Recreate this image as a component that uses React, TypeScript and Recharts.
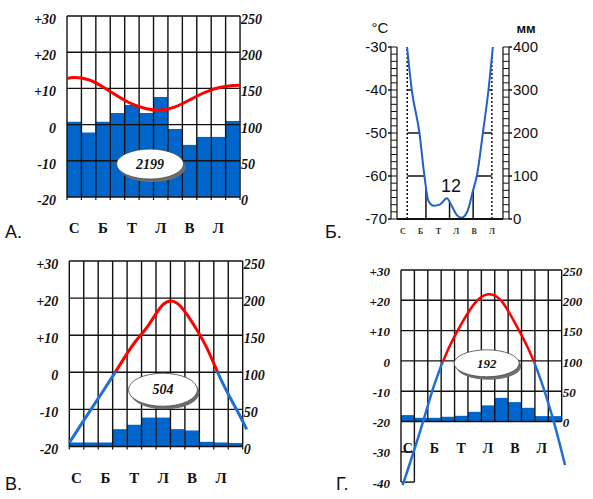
import React from 'react';
import {
  BarChart, Bar, LineChart, Line, AreaChart, Area,
  XAxis, YAxis, ReferenceLine, ReferenceDot, Label,
} from 'recharts';

const W = 593;
const H = 499;

// Month initials (Ukrainian calendar)
const months = ['С', 'Л', 'Б', 'К', 'Т', 'Ч', 'Л', 'С', 'В', 'Ж', 'Л', 'Г'];
const tempTicks = [-20, -10, 0, 10, 20, 30];
const tempTicksG = [-40, -30, -20, -10, 0, 10, 20, 30];
const mmTicks = [0, 50, 100, 150, 200, 250];

// Panel А
const precipA = [104, 89, 104, 116, 127, 116, 138, 94, 72, 83, 83, 105];
const tempA = [13.0, 12.4, 10.4, 7.9, 5.7, 4.4, 4.0, 4.9, 6.8, 8.8, 10.2, 10.8];
const tempAStart = [0, 12.7];
const tempAEnd = [12, 10.9];
const totalA = '2199';
const totalAPos = [5.76, -10.9];

// Panel В
const precipV = [5.4, 5.4, 5.4, 23.4, 29.2, 39, 39, 23.4, 21.6, 6.3, 5.4, 4.6];
const tempV = [-16, -10, -4.1, 2.0, 7.9, 12.8, 18.3, 18.5, 13.5, 6.7, -2.0, -9.5];
const tempVStart = [0, -19];
const tempVEnd = [12.28, -15.4];
const totalV = '504';
const totalVPos = [6.48, -4.7];

// Panel Г
const precipG = [10.6, 6.1, 6.1, 7.8, 9.4, 16, 26.6, 39, 32, 22.6, 8.9, 8.9];
const tempG = [-36, -22.2, -7.7, 3.6, 12.1, 19, 22, 19.8, 12.6, 4.1, -7.1, -21.5];
const tempGStart = [0.12, -41];
const tempGEnd = [12.25, -34.4];
const totalG = '192';
const totalGPos = [6.4, -0.8];

// Panel Б
const tempBMonth = [1.48, 2.01, 2.87, 3.43, 3.88, 4.5, 5.2, 5.94, 6.5, 7.07, 7.6, 8.26, 8.87, 9.31, 9.99, 10.62, 11.11];
const tempB = [-30, -40, -50, -60, -65.8, -66.9, -66.6, -65.2, -67, -69.1, -69.7, -68.2, -63.5, -60, -50, -40, -30];
const tempBTicks = [-70, -60, -50, -40, -30];
const mmBTicks = [0, 100, 200, 300, 400];
const totalB = '12';
const totalBPos = [6.41, -62.4];

const panelLetters = ['А.', 'Б.', 'В.', 'Г.'];

const INK = '#111';
const RED = '#ff0000';
const BLUE_LINE = '#1f6fd6';
const BAR_BLUE = '#0066cc';

const serifTick = (size: number, dy: number) => ({
  fontFamily: 'Liberation Serif', fontStyle: 'italic', fontWeight: 700, fontSize: size, fill: INK, dy,
});
const monthTick = (size: number) => ({
  fontFamily: 'Liberation Serif', fontWeight: 700, fontSize: size, fill: INK,
});

const layerStyle: React.CSSProperties = { position: 'absolute', left: 0, top: 0 };

type Seg = number[][];

type PanelCfg = {
  id: string;
  x1: number; y1: number; colW: number; pxDeg: number; yMin: number; xMax: number;
  precip: number[]; temp: number[]; start: number[]; end: number[];
  total: string; totalPos: number[]; rx: number; ry: number; totalFont: number;
  yTicks: number[]; labelFont: number; labelDy: number; monthFont: number; monthGap: number;
  bottomTicks: boolean; extraGrid: Seg[]; lineWidth: number;
};

const ellipseShape = (text: string, rx: number, ry: number, fs: number) => (p: any) => (
  <g>
    <ellipse cx={p.cx + 2} cy={p.cy + 3} rx={rx} ry={ry} fill="#6e6e6e" />
    <ellipse cx={p.cx} cy={p.cy} rx={rx} ry={ry} fill="#fff" stroke="#444" strokeWidth={0.8} />
    <text x={p.cx} y={p.cy} textAnchor="middle" dominantBaseline="central"
      fontFamily="Liberation Serif" fontStyle="italic" fontWeight={700} fontSize={fs} fill={INK}>{text}</text>
  </g>
);

// invisible helper series so that an axis with no visible series still gets its scale
const ghost = (yAxisId: string | number = 0) => (
  <Line yAxisId={yAxisId} dataKey="t" stroke="none" strokeOpacity={0} dot={false} activeDot={false}
    isAnimationActive={false} legendType="none" />
);

function ClimatePanel({ c }: { c: PanelCfg }) {
  const barPlot = { left: c.x1, top: c.y1, right: c.x1 + 12 * c.colW, bottom: c.y1 + 50 * c.pxDeg };
  const linePlot = { left: c.x1, top: c.y1, right: c.x1 + c.xMax * c.colW, bottom: c.y1 + (30 - c.yMin) * c.pxDeg };
  const RW = 40, XH = 40, LW = 40, TK = 3;
  const barData = c.precip.map((p, i) => ({ i, p }));
  const lineData = [
    { x: c.start[0], t: c.start[1] },
    ...c.temp.map((t, i) => ({ x: i + 0.5, t })),
    { x: c.end[0], t: c.end[1] },
  ];
  const gridSegs: Seg[] = [
    ...tempTicks.map((t) => [[0, t], [months.length, t]]),
    ...[...months.map((_, i) => i), months.length].map((i) => [[i, -20], [i, 30]]),
    ...c.extraGrid,
  ];
  const zeroOff = 30 / (30 - c.yMin);
  const gid = `grad-${c.id}`;
  return (
    <>
      {/* bars + right (mm) axis + month labels */}
      <div style={layerStyle}>
        <BarChart width={W} height={H} data={barData} barCategoryGap={0} barGap={0}
          margin={{ left: barPlot.left, top: barPlot.top, right: W - barPlot.right - RW, bottom: H - barPlot.bottom - XH }}>
          <XAxis dataKey="i" interval={1} tickLine={false} axisLine={false} height={XH}
            tickSize={0} tickMargin={c.monthGap} tick={monthTick(c.monthFont)}
            tickFormatter={(v: number) => months[v]} />
          <YAxis orientation="right" domain={[0, 250]} ticks={mmTicks} interval={0} width={RW}
            tickSize={0} tickMargin={1} axisLine={false} tick={serifTick(c.labelFont, c.labelDy)} />
          <Bar dataKey="p" fill={BAR_BLUE} isAnimationActive={false} />
        </BarChart>
      </div>
      {/* grid */}
      <div style={layerStyle}>
        <LineChart width={W} height={H} data={lineData}
          margin={{ left: linePlot.left, top: linePlot.top, right: W - linePlot.right, bottom: H - linePlot.bottom - (c.bottomTicks ? TK : 0) }}>
          <XAxis type="number" dataKey="x" domain={[0, c.xMax]} hide={!c.bottomTicks}
            ticks={[...months.map((_, i) => i), months.length]} interval={0} height={TK}
            tickSize={TK} axisLine={false} tickLine={{ stroke: INK, strokeWidth: 1.2 }} tickFormatter={() => ''} />
          <YAxis type="number" domain={[c.yMin, 30]} hide />
          {ghost()}
          {gridSegs.map((s, k) => (
            <ReferenceLine key={k} segment={[{ x: s[0][0], y: s[0][1] }, { x: s[1][0], y: s[1][1] }]}
              stroke={INK} strokeWidth={1.4} />
          ))}
        </LineChart>
      </div>
      {/* temperature line, left axis, total label */}
      <div style={layerStyle}>
        <LineChart width={W} height={H} data={lineData}
          margin={{ left: linePlot.left - LW, top: linePlot.top, right: W - linePlot.right, bottom: H - linePlot.bottom }}>
          <defs>
            <linearGradient id={gid} gradientUnits="userSpaceOnUse" x1={0} x2={0} y1={linePlot.top} y2={linePlot.bottom}>
              <stop offset={0} stopColor={RED} />
              <stop offset={zeroOff} stopColor={RED} />
              <stop offset={zeroOff} stopColor={BLUE_LINE} />
              <stop offset={1} stopColor={BLUE_LINE} />
            </linearGradient>
          </defs>
          <XAxis type="number" dataKey="x" domain={[0, c.xMax]} hide />
          <YAxis type="number" domain={[c.yMin, 30]} ticks={c.yTicks} interval={0} width={LW}
            tickSize={0} tickMargin={11} axisLine={false} tick={serifTick(c.labelFont, c.labelDy)}
            tickFormatter={(v: number) => (v > 0 ? `+${v}` : `${v}`)} />
          <Line type="natural" dataKey="t" stroke={`url(#${gid})`} strokeWidth={c.lineWidth}
            dot={false} isAnimationActive={false} />
          <ReferenceDot x={c.totalPos[0]} y={c.totalPos[1]} shape={ellipseShape(c.total, c.rx, c.ry, c.totalFont)} />
        </LineChart>
      </div>
    </>
  );
}

function PanelB() {
  const plot = { left: 397, top: 47, right: 503, bottom: 219 };
  const xDom = [0.35, 12.25];
  const data = tempBMonth.map((x, i) => ({ x, t: tempB[i] }));
  const IN = 6, OUTL = 22, OUTR = 34, XH = 20;
  const plainMargin = { left: plot.left, top: plot.top, right: W - plot.right, bottom: H - plot.bottom };
  const gridY = [-60, -50, -40];
  const dottedX = [1.5, 11];
  const solidX = [3.6, 6.25, 8.9];
  const ladderT = Array.from({ length: 25 }, (_, k) => -70 + (k * 40) / 24);
  const ladderMM = Array.from({ length: 25 }, (_, k) => (k * 400) / 24);
  const sans = { fontFamily: 'Liberation Sans', fontSize: 15, fill: INK };
  return (
    <>
      <div style={layerStyle}>
        <LineChart width={W} height={H} data={data} margin={plainMargin}>
          <XAxis type="number" dataKey="x" domain={xDom} hide />
          <YAxis type="number" domain={[-70, -30]} hide />
          {ghost()}
          {gridY.map((y) => (
            <ReferenceLine key={`h${y}`} segment={[{ x: dottedX[0], y }, { x: dottedX[1], y }]} stroke={INK} strokeWidth={1.6} />
          ))}
          {solidX.map((x) => (
            <ReferenceLine key={`v${x}`} segment={[{ x, y: -70 }, { x, y: -30 }]} stroke={INK} strokeWidth={1.5} />
          ))}
          {dottedX.map((x) => (
            <ReferenceLine key={`d${x}`} segment={[{ x, y: -70 }, { x, y: -30 }]} stroke={INK} strokeWidth={1.5} strokeDasharray="2 2" />
          ))}
        </LineChart>
      </div>
      <div style={layerStyle}>
        <AreaChart width={W} height={H} data={data} margin={plainMargin}>
          <XAxis type="number" dataKey="x" domain={xDom} hide />
          <YAxis type="number" domain={[-70, -30]} hide />
          <Area type="monotone" dataKey="t" baseValue={-30} fill="#fff" fillOpacity={1}
            stroke="#2160c4" strokeWidth={2} dot={false} isAnimationActive={false} />
        </AreaChart>
      </div>
      <div style={layerStyle}>
        <LineChart width={W} height={H} data={data}
          margin={{ left: plot.left - IN - OUTL, top: plot.top, right: W - plot.right - IN - OUTR, bottom: H - plot.bottom - XH }}>
          <XAxis type="number" dataKey="x" domain={xDom} ticks={[1, 3, 5, 7, 9, 11]} interval={0}
            tickFormatter={(v: number) => months[v - 1]} tickLine={false}
            axisLine={{ stroke: INK, strokeWidth: 2 }} height={XH} tickSize={0} tickMargin={9}
            tick={{ fontFamily: 'Liberation Serif', fontWeight: 700, fontSize: 8, fill: '#333' }} />
          <YAxis yAxisId="tIn" type="number" domain={[-70, -30]} ticks={ladderT} interval={0} width={IN}
            tickSize={IN} tickFormatter={() => ''} axisLine={{ stroke: INK, strokeWidth: 1.2 }} tickLine={{ stroke: INK, strokeWidth: 1 }} />
          <YAxis yAxisId="tOut" type="number" domain={[-70, -30]} ticks={tempBTicks} interval={0} width={OUTL}
            tickSize={3} tickMargin={1} axisLine={{ stroke: INK, strokeWidth: 1.2 }} tickLine={{ stroke: INK, strokeWidth: 1.5 }}
            tick={sans}>
            <Label value="°C" position="top" offset={14.5} style={{ fontFamily: 'Liberation Sans', fontSize: 15, fill: INK }} />
          </YAxis>
          <YAxis yAxisId="mmIn" orientation="right" type="number" domain={[0, 400]} allowDataOverflow ticks={ladderMM} interval={0} width={IN}
            tickSize={IN} tickFormatter={() => ''} axisLine={{ stroke: INK, strokeWidth: 1.2 }} tickLine={{ stroke: INK, strokeWidth: 1 }} />
          <YAxis yAxisId="mmOut" orientation="right" type="number" domain={[0, 400]} allowDataOverflow ticks={mmBTicks} interval={0} width={OUTR}
            tickSize={3} tickMargin={1} axisLine={{ stroke: INK, strokeWidth: 1.2 }} tickLine={{ stroke: INK, strokeWidth: 1.5 }}
            tick={sans}>
            <Label value="мм" position="top" offset={13.7} style={{ fontFamily: 'Liberation Sans', fontWeight: 700, fontSize: 13, fill: INK }} />
          </YAxis>
          {ghost('tIn')}
          {ghost('tOut')}
          {ghost('mmIn')}
          {ghost('mmOut')}
          <ReferenceDot yAxisId="tIn" x={totalBPos[0]} y={totalBPos[1]}
            shape={(p: any) => (
              <text x={p.cx} y={p.cy} textAnchor="middle" dominantBaseline="central"
                fontFamily="Liberation Sans" fontSize={18} fill={INK}>{totalB}</text>
            )} />
        </LineChart>
      </div>
    </>
  );
}

const cfgA: PanelCfg = {
  id: 'a', x1: 67, y1: 16, colW: 14.42, pxDeg: 3.62, yMin: -20, xMax: 12,
  precip: precipA, temp: tempA, start: tempAStart, end: tempAEnd,
  total: totalA, totalPos: totalAPos, rx: 33.5, ry: 15, totalFont: 14,
  yTicks: tempTicks, labelFont: 14, labelDy: 3, monthFont: 15, monthGap: 25,
  bottomTicks: true, extraGrid: [], lineWidth: 3,
};
const cfgV: PanelCfg = {
  id: 'v', x1: 69.3, y1: 261, colW: 14.45, pxDeg: 3.71, yMin: -20, xMax: 12.3,
  precip: precipV, temp: tempV, start: tempVStart, end: tempVEnd,
  total: totalV, totalPos: totalVPos, rx: 34.5, ry: 16.5, totalFont: 14,
  yTicks: tempTicks, labelFont: 14, labelDy: 3, monthFont: 15, monthGap: 26,
  bottomTicks: true, extraGrid: [], lineWidth: 3,
};
const cfgG: PanelCfg = {
  id: 'g', x1: 401, y1: 270, colW: 13.39, pxDeg: 3.03, yMin: -42, xMax: 12.3,
  precip: precipG, temp: tempG, start: tempGStart, end: tempGEnd,
  total: totalG, totalPos: totalGPos, rx: 32.5, ry: 13.5, totalFont: 13,
  yTicks: tempTicksG, labelFont: 13, labelDy: 1, monthFont: 14, monthGap: 22,
  bottomTicks: false,
  extraGrid: [
    [[0, -40], [0, -20]], [[1, -40], [1, -20]],
    [[0, -30], [1, -30]], [[0, -40], [1, -40]],
  ],
  lineWidth: 2.5,
};

const letterPos = [[5, 238], [325, 238], [5, 490], [336, 490]];

export default function App() {
  return (
    <div style={{ position: 'absolute', left: 0, top: 0, width: W, height: H, background: '#fff', overflow: 'hidden' }}>
      <svg width={W} height={H} style={layerStyle}>
        {panelLetters.map((l, i) => (
          <text key={l} x={letterPos[i][0]} y={letterPos[i][1]} fontFamily="Liberation Sans" fontSize={18} fill={INK}>{l}</text>
        ))}
      </svg>
      <ClimatePanel c={cfgA} />
      <PanelB />
      <ClimatePanel c={cfgV} />
      <ClimatePanel c={cfgG} />
    </div>
  );
}
